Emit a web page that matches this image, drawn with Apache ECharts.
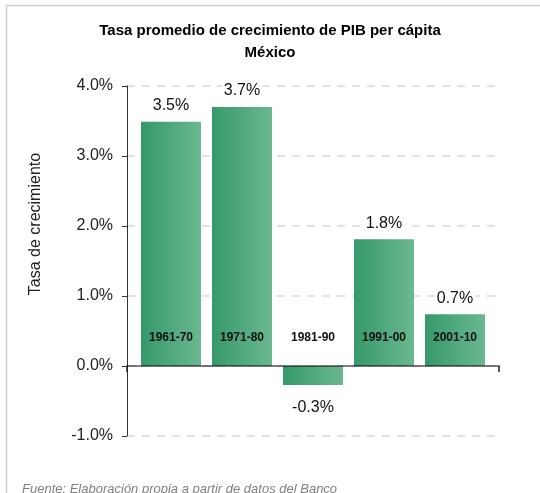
<!DOCTYPE html>
<html>
<head>
<meta charset="utf-8">
<script src="https://cdn.jsdelivr.net/npm/echarts@6/dist/echarts.min.js"></script>
<style>
  html, body { margin: 0; padding: 0; background: #fff; }
  #chart { width: 540px; height: 493px; }
</style>
</head>
<body>
<div id="chart"></div>
<script>
// datos
var periodos = ["1961-70", "1971-80", "1981-90", "1991-00", "2001-10"];
var tasas = [3.49, 3.70, -0.27, 1.81, 0.74]; // % promedio anual
var yTicks = { min: -1, max: 4, interval: 1 };

var fuente = "Liberation Sans";

var myChart = echarts.init(document.getElementById("chart"));

var verde = new echarts.graphic.LinearGradient(0, 0, 1, 0, [
  { offset: 0, color: "#36996a" },
  { offset: 1, color: "#6ab890" }
]);

var barData = tasas.map(function (v) {
  var item = { value: v };
  if (v < 0) {
    item.label = { position: "bottom", distance: 15 };
  }
  return item;
});

var option = {
  animation: false,
  backgroundColor: "#fff",
  textStyle: { fontFamily: fuente },
  title: [
    {
      text: "Tasa promedio de crecimiento de PIB per cápita\nMéxico",
      left: "center",
      top: 15,
      textStyle: {
        fontFamily: fuente,
        fontSize: 15,
        fontWeight: "bold",
        color: "#000",
        lineHeight: 22
      }
    },
    {
      text: "Fuente: Elaboración propia a partir de datos del Banco",
      left: 17,
      top: 478,
      textStyle: {
        fontFamily: fuente,
        fontSize: 13,
        fontStyle: "italic",
        fontWeight: "normal",
        color: "#808080"
      }
    }
  ],
  graphic: [
    {
      type: "rect",
      shape: { x: 6.5, y: 5.5, width: 700, height: 700 },
      style: { fill: "none", stroke: "#cfcfcf", lineWidth: 1.5 },
      silent: true
    },
    {
      type: "text",
      x: 36,
      y: 224,
      rotation: Math.PI / 2,
      style: {
        text: "Tasa de crecimiento",
        fontFamily: fuente,
        fontSize: 16,
        fill: "#222",
        align: "center",
        verticalAlign: "middle"
      }
    }
  ],
  grid: [
    { left: 127, right: 41, top: 86, bottom: 57 },
    { left: 135.5, right: 49.5, top: 86, bottom: 57 }
  ],
  xAxis: [
    {
      gridIndex: 0,
      type: "category",
      data: [""],
      z: 5,
      axisLine: { onZero: true, lineStyle: { color: "rgba(0,0,0,0.5)", width: 2 } },
      axisTick: { show: true, length: 6, lineStyle: { color: "#222", width: 1.5 } },
      axisLabel: { show: false },
      splitLine: { show: false }
    },
    {
      gridIndex: 1,
      type: "category",
      data: periodos,
      z: 6,
      axisLine: { show: false },
      axisTick: { show: false },
      axisLabel: {
        inside: true,
        margin: 92,
        fontFamily: fuente,
        fontSize: 12,
        fontWeight: "bold",
        color: "#111"
      }
    }
  ],
  yAxis: [
    {
      gridIndex: 0,
      type: "value",
      min: yTicks.min,
      max: yTicks.max,
      interval: yTicks.interval,
      axisLine: { show: true, lineStyle: { color: "#333", width: 1 } },
      axisTick: { show: true, length: 5, lineStyle: { color: "#333" } },
      axisLabel: {
        margin: 14,
        fontFamily: fuente,
        fontSize: 16,
        color: "#222",
        formatter: function (v) { return v.toFixed(1) + "%"; }
      },
      splitLine: {
        show: true,
        lineStyle: { color: "#d9d9d9", width: 1.5, type: [8, 7] }
      }
    },
    {
      gridIndex: 1,
      type: "value",
      min: yTicks.min,
      max: yTicks.max,
      interval: yTicks.interval,
      show: false
    }
  ],
  series: [
    {
      name: "Tasa de crecimiento",
      type: "bar",
      xAxisIndex: 1,
      yAxisIndex: 1,
      barWidth: 60,
      data: barData,
      itemStyle: { color: verde },
      label: {
        show: true,
        position: "top",
        distance: 8,
        fontFamily: fuente,
        fontSize: 16,
        color: "#111",
        backgroundColor: "#fff",
        padding: [0, 2],
        formatter: function (p) { return p.value.toFixed(1) + "%"; }
      }
    }
  ]
};

myChart.setOption(option);
</script>
</body>
</html>
